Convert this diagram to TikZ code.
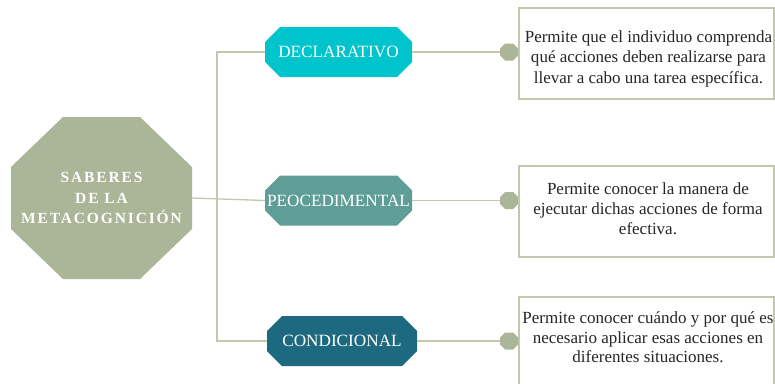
\documentclass[tikz,border=0pt]{standalone}
\usepackage{fontspec}
\setmainfont{Liberation Serif}
\definecolor{sage}{HTML}{ABB598}
\definecolor{stemgreen}{HTML}{C2C7AE}
\definecolor{declfill}{HTML}{00C4CC}
\definecolor{procfill}{HTML}{5F9E96}
\definecolor{condfill}{HTML}{1D6A80}
\definecolor{ink}{HTML}{262626}
\begin{document}
\begin{tikzpicture}[x=1pt, y=-1pt,
		branch/.style={inner sep=0pt, text=white, font=\fontsize{17.2}{20}\selectfont},
		info/.style={draw=stemgreen, line width=1.5pt, fill=white, minimum width=255pt, minimum height=91pt, inner sep=0pt},
		infotext/.style={inner sep=0pt, align=center, text=ink},
		stem/.style={draw=stemgreen, line width=1.3pt}]
	\useasboundingbox (0,0) rectangle (775,383);
	\fill[sage] (63,117) -- ++(77,0) -- ++(52,50) -- ++(0,62) -- ++(-52,50) -- ++(-77,0) -- ++(-52,-50) -- ++(0,-62) -- cycle;
	\node[inner sep=0pt, minimum width=181pt, minimum height=162pt, align=center, text=white, font=\bfseries\fontsize{15.5}{20.5}\selectfont\addfontfeature{LetterSpace=12}] (saberes) at (101.5,198) {SABERES\\DE LA\\METACOGNICIÓN};
	\foreach \nm / \cx / \cy / \w / \col / \txt in {decl/338.5/52/147/declfill/DECLARATIVO, proc/338.5/200.5/147/procfill/PEOCEDIMENTAL, cond/342/341/150/condfill/CONDICIONAL} {
		\fill[\col] (\cx-\w/2+15, \cy-25) -- ++(\w-30,0) -- ++(15,15) -- ++(0,20) -- ++(-15,15) -- ++(-\w+30,0) -- ++(-15,-15) -- ++(0,-20) -- cycle;
		\node[branch, minimum width=\w pt, minimum height=50pt] (\nm) at (\cx,\cy) {\txt};
		\fill[sage] (505,\cy-8.5) -- ++(8,0) -- ++(5,5) -- ++(0,7) -- ++(-5,5) -- ++(-8,0) -- ++(-5,-5) -- ++(0,-7) -- cycle;
		\node[inner sep=0pt, minimum width=18pt, minimum height=17pt] (dot\nm) at (509,\cy) {};
		\draw[stem] (\nm.east) -- (dot\nm.west);
	}
	\coordinate (fork) at (217,52);
	\draw[stem] (decl.west) -- (fork) |- (cond.west);
	\draw[stem] (saberes.east) -- (proc.west);
	\node[info] (infodecl) at (646.5,53.5) {};
	\node[info] (infoproc) at (646.5,211.5) {};
	\node[info] (infocond) at (646.5,342.5) {};
	\node[infotext, font=\fontsize{17}{20.5}\selectfont] (textdecl) at ([xshift=2pt, yshift=-5pt]infodecl.center) {Permite que el individuo comprenda\\qué acciones deben realizarse para\\llevar a cabo una tarea específica.};
	\node[infotext, font=\fontsize{17}{20}\selectfont] (textproc) at ([xshift=1.5pt, yshift=3pt]infoproc.center) {Permite conocer la manera de\\ejecutar dichas acciones de forma\\efectiva.};
	\node[infotext, font=\fontsize{17}{19.5}\selectfont] (textcond) at ([xshift=1.5pt, yshift=5pt]infocond.center) {Permite conocer cuándo y por qué es\\necesario aplicar esas acciones en\\diferentes situaciones.};
\end{tikzpicture}
\end{document}
